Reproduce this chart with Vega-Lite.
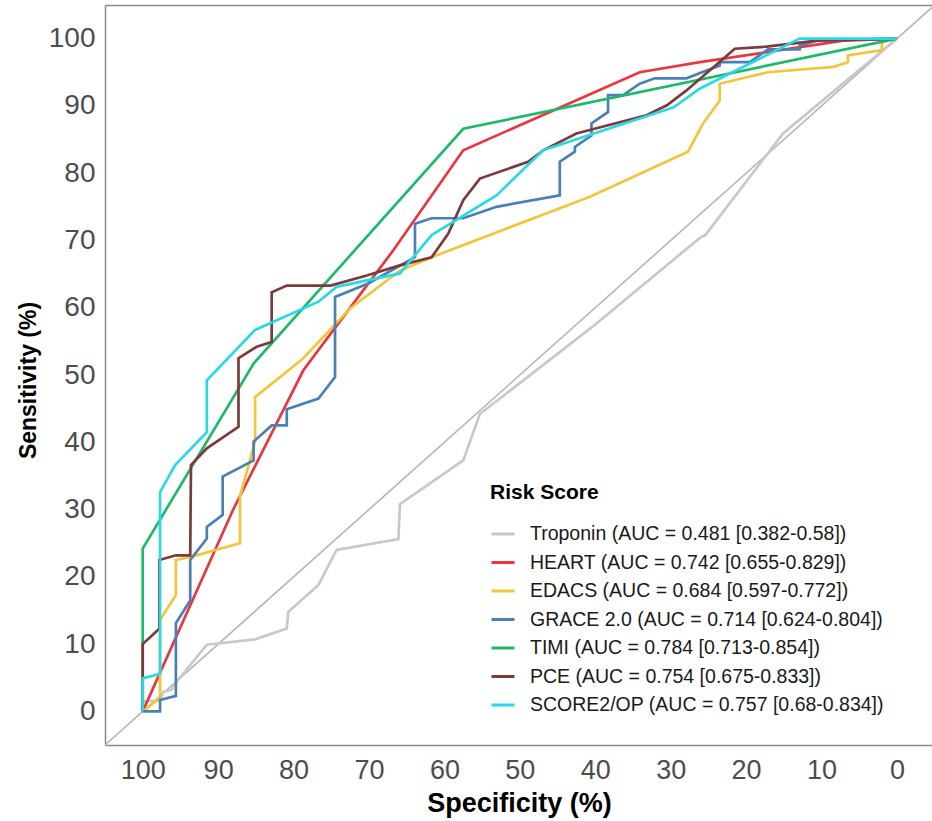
{
  "$schema": "https://vega.github.io/schema/vega-lite/v6.json",
  "width": 827,
  "height": 740,
  "autosize": {"type": "none"},
  "padding": {"left": 105, "top": 5, "right": 0, "bottom": 76},
  "background": "white",
  "config": {
    "view": {"stroke": null},
    "font": "Liberation Sans"
  },
  "resolve": {"axis": {"x": "independent"}},
  "datasets": {
    "diag": [{"spec": 105, "sens": -5}, {"spec": -5, "sens": 105}],
    "roc": [
      {"model": "Troponin", "i": 0, "spec": 100, "sens": 0},
      {"model": "Troponin", "i": 1, "spec": 100, "sens": 1.5},
      {"model": "Troponin", "i": 2, "spec": 97.7, "sens": 1.6},
      {"model": "Troponin", "i": 3, "spec": 97.3, "sens": 2.9},
      {"model": "Troponin", "i": 4, "spec": 96.2, "sens": 3.2},
      {"model": "Troponin", "i": 5, "spec": 95.5, "sens": 4.4},
      {"model": "Troponin", "i": 6, "spec": 91.5, "sens": 9.9},
      {"model": "Troponin", "i": 7, "spec": 85.1, "sens": 10.7},
      {"model": "Troponin", "i": 8, "spec": 80.9, "sens": 12.3},
      {"model": "Troponin", "i": 9, "spec": 80.7, "sens": 14.8},
      {"model": "Troponin", "i": 10, "spec": 76.7, "sens": 18.8},
      {"model": "Troponin", "i": 11, "spec": 74.3, "sens": 24},
      {"model": "Troponin", "i": 12, "spec": 66.1, "sens": 25.6},
      {"model": "Troponin", "i": 13, "spec": 65.9, "sens": 30.8},
      {"model": "Troponin", "i": 14, "spec": 57.5, "sens": 37.3},
      {"model": "Troponin", "i": 15, "spec": 55.3, "sens": 44.2},
      {"model": "Troponin", "i": 16, "spec": 40, "sens": 57.5},
      {"model": "Troponin", "i": 17, "spec": 26, "sens": 70.5},
      {"model": "Troponin", "i": 18, "spec": 25.4, "sens": 70.8},
      {"model": "Troponin", "i": 19, "spec": 15.1, "sens": 85.9},
      {"model": "Troponin", "i": 20, "spec": 0, "sens": 100},

      {"model": "HEART", "i": 0, "spec": 100, "sens": 0},
      {"model": "HEART", "i": 1, "spec": 88, "sens": 30},
      {"model": "HEART", "i": 2, "spec": 78.7, "sens": 50.7},
      {"model": "HEART", "i": 3, "spec": 74.7, "sens": 56.7},
      {"model": "HEART", "i": 4, "spec": 66.8, "sens": 68.5},
      {"model": "HEART", "i": 5, "spec": 57.5, "sens": 83.4},
      {"model": "HEART", "i": 6, "spec": 34.1, "sens": 95},
      {"model": "HEART", "i": 7, "spec": 26.1, "sens": 96.5},
      {"model": "HEART", "i": 8, "spec": 7.1, "sens": 99.7},
      {"model": "HEART", "i": 9, "spec": 0, "sens": 100},

      {"model": "EDACS", "i": 0, "spec": 100, "sens": 0},
      {"model": "EDACS", "i": 1, "spec": 97.7, "sens": 2},
      {"model": "EDACS", "i": 2, "spec": 97.7, "sens": 13.6},
      {"model": "EDACS", "i": 3, "spec": 95.6, "sens": 17.3},
      {"model": "EDACS", "i": 4, "spec": 95.6, "sens": 22.5},
      {"model": "EDACS", "i": 5, "spec": 93.5, "sens": 23},
      {"model": "EDACS", "i": 6, "spec": 87.1, "sens": 25},
      {"model": "EDACS", "i": 7, "spec": 87.1, "sens": 32},
      {"model": "EDACS", "i": 8, "spec": 85.1, "sens": 40.1},
      {"model": "EDACS", "i": 9, "spec": 85.1, "sens": 46.7},
      {"model": "EDACS", "i": 10, "spec": 78.7, "sens": 52.5},
      {"model": "EDACS", "i": 11, "spec": 72.5, "sens": 59.9},
      {"model": "EDACS", "i": 12, "spec": 65.9, "sens": 65.5},
      {"model": "EDACS", "i": 13, "spec": 61.7, "sens": 67.5},
      {"model": "EDACS", "i": 14, "spec": 40.7, "sens": 76.5},
      {"model": "EDACS", "i": 15, "spec": 27.7, "sens": 83.2},
      {"model": "EDACS", "i": 16, "spec": 25.7, "sens": 87.4},
      {"model": "EDACS", "i": 17, "spec": 23.5, "sens": 90.8},
      {"model": "EDACS", "i": 18, "spec": 23.5, "sens": 93.3},
      {"model": "EDACS", "i": 19, "spec": 17.1, "sens": 95},
      {"model": "EDACS", "i": 20, "spec": 8.4, "sens": 95.8},
      {"model": "EDACS", "i": 21, "spec": 6.5, "sens": 96.5},
      {"model": "EDACS", "i": 22, "spec": 6.5, "sens": 97.5},
      {"model": "EDACS", "i": 23, "spec": 2, "sens": 98.3},
      {"model": "EDACS", "i": 24, "spec": 2, "sens": 99.5},
      {"model": "EDACS", "i": 25, "spec": 0.5, "sens": 100},
      {"model": "EDACS", "i": 26, "spec": 0, "sens": 100},

      {"model": "GRACE 2.0", "i": 0, "spec": 100, "sens": 0},
      {"model": "GRACE 2.0", "i": 1, "spec": 97.7, "sens": 0},
      {"model": "GRACE 2.0", "i": 2, "spec": 97.7, "sens": 1.7},
      {"model": "GRACE 2.0", "i": 3, "spec": 95.6, "sens": 2.3},
      {"model": "GRACE 2.0", "i": 4, "spec": 95.6, "sens": 13.1},
      {"model": "GRACE 2.0", "i": 5, "spec": 93.7, "sens": 16.5},
      {"model": "GRACE 2.0", "i": 6, "spec": 93.7, "sens": 22.5},
      {"model": "GRACE 2.0", "i": 7, "spec": 91.5, "sens": 25.7},
      {"model": "GRACE 2.0", "i": 8, "spec": 91.5, "sens": 27.4},
      {"model": "GRACE 2.0", "i": 9, "spec": 89.4, "sens": 29.2},
      {"model": "GRACE 2.0", "i": 10, "spec": 89.4, "sens": 34.9},
      {"model": "GRACE 2.0", "i": 11, "spec": 85.3, "sens": 37.3},
      {"model": "GRACE 2.0", "i": 12, "spec": 85.3, "sens": 40.1},
      {"model": "GRACE 2.0", "i": 13, "spec": 82.9, "sens": 42.5},
      {"model": "GRACE 2.0", "i": 14, "spec": 80.9, "sens": 42.5},
      {"model": "GRACE 2.0", "i": 15, "spec": 80.9, "sens": 44.9},
      {"model": "GRACE 2.0", "i": 16, "spec": 76.7, "sens": 46.5},
      {"model": "GRACE 2.0", "i": 17, "spec": 74.5, "sens": 49.7},
      {"model": "GRACE 2.0", "i": 18, "spec": 74.5, "sens": 61.6},
      {"model": "GRACE 2.0", "i": 19, "spec": 70.1, "sens": 63.6},
      {"model": "GRACE 2.0", "i": 20, "spec": 63.9, "sens": 67.5},
      {"model": "GRACE 2.0", "i": 21, "spec": 63.9, "sens": 72.5},
      {"model": "GRACE 2.0", "i": 22, "spec": 61.7, "sens": 73.3},
      {"model": "GRACE 2.0", "i": 23, "spec": 57.5, "sens": 73.3},
      {"model": "GRACE 2.0", "i": 24, "spec": 53.1, "sens": 75},
      {"model": "GRACE 2.0", "i": 25, "spec": 44.7, "sens": 76.7},
      {"model": "GRACE 2.0", "i": 26, "spec": 44.7, "sens": 81.7},
      {"model": "GRACE 2.0", "i": 27, "spec": 42.7, "sens": 83.2},
      {"model": "GRACE 2.0", "i": 28, "spec": 42.7, "sens": 83.9},
      {"model": "GRACE 2.0", "i": 29, "spec": 40.5, "sens": 85.6},
      {"model": "GRACE 2.0", "i": 30, "spec": 40.5, "sens": 87.4},
      {"model": "GRACE 2.0", "i": 31, "spec": 38.3, "sens": 89.1},
      {"model": "GRACE 2.0", "i": 32, "spec": 38.3, "sens": 91.6},
      {"model": "GRACE 2.0", "i": 33, "spec": 36.3, "sens": 91.6},
      {"model": "GRACE 2.0", "i": 34, "spec": 34.1, "sens": 93.3},
      {"model": "GRACE 2.0", "i": 35, "spec": 32.1, "sens": 94.1},
      {"model": "GRACE 2.0", "i": 36, "spec": 27.9, "sens": 94.1},
      {"model": "GRACE 2.0", "i": 37, "spec": 26.1, "sens": 94.9},
      {"model": "GRACE 2.0", "i": 38, "spec": 23.5, "sens": 96},
      {"model": "GRACE 2.0", "i": 39, "spec": 23.5, "sens": 96.5},
      {"model": "GRACE 2.0", "i": 40, "spec": 19.5, "sens": 96.5},
      {"model": "GRACE 2.0", "i": 41, "spec": 17.1, "sens": 98.4},
      {"model": "GRACE 2.0", "i": 42, "spec": 12.9, "sens": 98.4},
      {"model": "GRACE 2.0", "i": 43, "spec": 12.9, "sens": 99},
      {"model": "GRACE 2.0", "i": 44, "spec": 10.6, "sens": 99.7},
      {"model": "GRACE 2.0", "i": 45, "spec": 0, "sens": 100},

      {"model": "TIMI", "i": 0, "spec": 100, "sens": 0},
      {"model": "TIMI", "i": 1, "spec": 100, "sens": 24.2},
      {"model": "TIMI", "i": 2, "spec": 85.3, "sens": 51.7},
      {"model": "TIMI", "i": 3, "spec": 57.5, "sens": 86.6},
      {"model": "TIMI", "i": 4, "spec": 0, "sens": 100},

      {"model": "PCE", "i": 0, "spec": 100, "sens": 0},
      {"model": "PCE", "i": 1, "spec": 100, "sens": 5},
      {"model": "PCE", "i": 2, "spec": 100, "sens": 10},
      {"model": "PCE", "i": 3, "spec": 97.8, "sens": 12.3},
      {"model": "PCE", "i": 4, "spec": 97.8, "sens": 22.5},
      {"model": "PCE", "i": 5, "spec": 95.6, "sens": 23.2},
      {"model": "PCE", "i": 6, "spec": 93.7, "sens": 23.2},
      {"model": "PCE", "i": 7, "spec": 93.6, "sens": 36.6},
      {"model": "PCE", "i": 8, "spec": 91.5, "sens": 39.1},
      {"model": "PCE", "i": 9, "spec": 87.3, "sens": 42.3},
      {"model": "PCE", "i": 10, "spec": 87.3, "sens": 52.5},
      {"model": "PCE", "i": 11, "spec": 84.9, "sens": 54.2},
      {"model": "PCE", "i": 12, "spec": 82.9, "sens": 54.9},
      {"model": "PCE", "i": 13, "spec": 82.9, "sens": 62.3},
      {"model": "PCE", "i": 14, "spec": 80.9, "sens": 63.3},
      {"model": "PCE", "i": 15, "spec": 75.1, "sens": 63.3},
      {"model": "PCE", "i": 16, "spec": 70.3, "sens": 64.8},
      {"model": "PCE", "i": 17, "spec": 65.9, "sens": 66.3},
      {"model": "PCE", "i": 18, "spec": 61.7, "sens": 67.5},
      {"model": "PCE", "i": 19, "spec": 59.5, "sens": 71},
      {"model": "PCE", "i": 20, "spec": 57.5, "sens": 76},
      {"model": "PCE", "i": 21, "spec": 55.3, "sens": 79.2},
      {"model": "PCE", "i": 22, "spec": 48.9, "sens": 81.7},
      {"model": "PCE", "i": 23, "spec": 46.9, "sens": 83.4},
      {"model": "PCE", "i": 24, "spec": 42.5, "sens": 85.9},
      {"model": "PCE", "i": 25, "spec": 33.2, "sens": 88.6},
      {"model": "PCE", "i": 26, "spec": 30.5, "sens": 90.1},
      {"model": "PCE", "i": 27, "spec": 27.9, "sens": 92.3},
      {"model": "PCE", "i": 28, "spec": 21.5, "sens": 98.5},
      {"model": "PCE", "i": 29, "spec": 17.3, "sens": 98.8},
      {"model": "PCE", "i": 30, "spec": 10.6, "sens": 99.7},
      {"model": "PCE", "i": 31, "spec": 0, "sens": 100},

      {"model": "SCORE2/OP", "i": 0, "spec": 100, "sens": 0},
      {"model": "SCORE2/OP", "i": 1, "spec": 100, "sens": 4.9},
      {"model": "SCORE2/OP", "i": 2, "spec": 97.7, "sens": 5.6},
      {"model": "SCORE2/OP", "i": 3, "spec": 97.7, "sens": 32.6},
      {"model": "SCORE2/OP", "i": 4, "spec": 95.7, "sens": 36.6},
      {"model": "SCORE2/OP", "i": 5, "spec": 91.5, "sens": 41.5},
      {"model": "SCORE2/OP", "i": 6, "spec": 91.5, "sens": 49.2},
      {"model": "SCORE2/OP", "i": 7, "spec": 85.1, "sens": 56.7},
      {"model": "SCORE2/OP", "i": 8, "spec": 76.7, "sens": 60.9},
      {"model": "SCORE2/OP", "i": 9, "spec": 74.3, "sens": 63.1},
      {"model": "SCORE2/OP", "i": 10, "spec": 65.9, "sens": 65.1},
      {"model": "SCORE2/OP", "i": 11, "spec": 61.7, "sens": 70.8},
      {"model": "SCORE2/OP", "i": 12, "spec": 53.1, "sens": 76.7},
      {"model": "SCORE2/OP", "i": 13, "spec": 46.9, "sens": 83.4},
      {"model": "SCORE2/OP", "i": 14, "spec": 29.6, "sens": 89.8},
      {"model": "SCORE2/OP", "i": 15, "spec": 26.1, "sens": 92.6},
      {"model": "SCORE2/OP", "i": 16, "spec": 12.9, "sens": 100},
      {"model": "SCORE2/OP", "i": 17, "spec": 0, "sens": 100}
    ]
  },
  "layer": [
    {
      "data": {"name": "diag"},
      "mark": {"type": "line", "color": "#b5b5b5", "strokeWidth": 1.6, "clip": true},
      "encoding": {
        "x": {
          "field": "spec",
          "type": "quantitative",
          "scale": {"domain": [-4.65, 105], "reverse": true, "nice": false, "zero": false},
          "axis": {
            "orient": "top",
            "title": null,
            "labels": false,
            "ticks": false,
            "grid": false,
            "domain": true,
            "domainColor": "#8a8a8a",
            "domainWidth": 1.5
          }
        },
        "y": {"field": "sens", "type": "quantitative"}
      }
    },
    {
      "data": {"name": "roc"},
      "mark": {"type": "line", "strokeWidth": 2.7, "clip": true},
      "encoding": {
        "x": {
          "field": "spec",
          "type": "quantitative",
          "scale": {"domain": [-4.65, 105], "reverse": true, "nice": false, "zero": false},
          "axis": {
            "orient": "bottom",
            "title": "Specificity (%)",
            "values": [0, 10, 20, 30, 40, 50, 60, 70, 80, 90, 100],
            "grid": false,
            "ticks": false,
            "domain": true,
            "domainColor": "#8a8a8a",
            "domainWidth": 1.5,
            "labelFont": "Liberation Sans",
            "labelFontSize": 27,
            "labelColor": "#4d4d4d",
            "labelPadding": 12,
            "titleFont": "Liberation Sans",
            "titleFontSize": 27,
            "titleFontWeight": "bold",
            "titleColor": "#000000",
            "titleX": 414,
            "titleY": 58,
            "titleBaseline": "middle"
          }
        },
        "y": {
          "field": "sens",
          "type": "quantitative",
          "scale": {"domain": [-5, 105], "nice": false, "zero": false},
          "axis": {
            "title": "Sensitivity (%)",
            "values": [0, 10, 20, 30, 40, 50, 60, 70, 80, 90, 100],
            "grid": false,
            "ticks": false,
            "domain": true,
            "domainColor": "#8a8a8a",
            "domainWidth": 1.5,
            "labelFont": "Liberation Sans",
            "labelFontSize": 28,
            "labelColor": "#4d4d4d",
            "labelPadding": 10,
            "titleFont": "Liberation Sans",
            "titleFontSize": 23,
            "titleFontWeight": "bold",
            "titleColor": "#000000",
            "titleAngle": 270,
            "titleX": -77,
            "titleY": 375,
            "titleBaseline": "middle",
            "titleAlign": "center"
          }
        },
        "color": {
          "field": "model",
          "type": "nominal",
          "scale": {
            "domain": ["Troponin", "HEART", "EDACS", "GRACE 2.0", "TIMI", "PCE", "SCORE2/OP"],
            "range": ["#c8c8c8", "#e8373e", "#f2c53d", "#4b80b5", "#20b96b", "#7d3a3a", "#2bd9e6"]
          },
          "legend": {
            "title": "Risk Score",
            "orient": "none",
            "legendX": 385,
            "legendY": 477,
            "padding": 0,
            "titleFont": "Liberation Sans",
            "titleFontSize": 21,
            "titleFontWeight": "bold",
            "titleColor": "#000000",
            "titlePadding": 18,
            "labelFont": "Liberation Sans",
            "labelFontSize": 19.5,
            "labelColor": "#1a1a1a",
            "labelLimit": 500,
            "labelOffset": 14,
            "symbolType": "stroke",
            "symbolSize": 529,
            "symbolStrokeWidth": 3,
            "rowPadding": 5.5,
            "labelExpr": "{'Troponin': 'Troponin (AUC = 0.481 [0.382-0.58])', 'HEART': 'HEART (AUC = 0.742 [0.655-0.829])', 'EDACS': 'EDACS (AUC = 0.684 [0.597-0.772])', 'GRACE 2.0': 'GRACE 2.0 (AUC = 0.714 [0.624-0.804])', 'TIMI': 'TIMI (AUC = 0.784 [0.713-0.854])', 'PCE': 'PCE (AUC = 0.754 [0.675-0.833])', 'SCORE2/OP': 'SCORE2/OP (AUC = 0.757 [0.68-0.834])'}[datum.label]"
          }
        },
        "order": {"field": "i", "type": "quantitative"}
      }
    }
  ]
}
